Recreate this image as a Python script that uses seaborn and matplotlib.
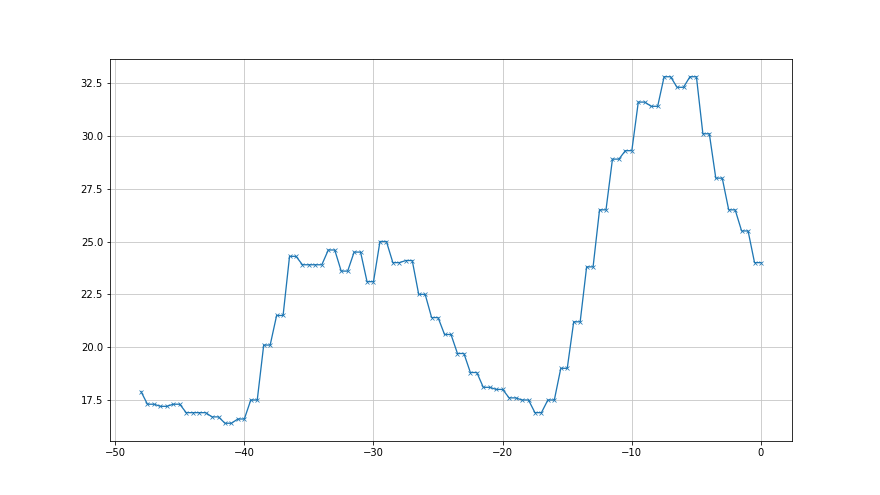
import numpy as np
import pandas as pd
import matplotlib
matplotlib.use("Agg")
import matplotlib.pyplot as plt
import seaborn as sns

# first sample, then one value per pair of half-steps
first_x = -48.0
first_value = 17.9
pair_values = [
    17.3, 17.2, 17.3, 16.9, 16.9, 16.7, 16.4, 16.6, 17.5, 20.1,
    21.5, 24.3, 23.9, 23.9, 24.6, 23.6, 24.5, 23.1, 25.0, 24.0,
    24.1, 22.5, 21.4, 20.6, 19.7, 18.8, 18.1, 18.0, 17.6, 17.5,
    16.9, 17.5, 19.0, 21.2, 23.8, 26.5, 28.9, 29.3, 31.6, 31.4,
    32.8, 32.3, 32.8, 30.1, 28.0, 26.5, 25.5, 24.0,
]

xs = [first_x]
ys = [first_value]
for i, v in enumerate(pair_values):
    x0 = -47.5 + i
    xs += [x0, x0 + 0.5]
    ys += [v, v]

df = pd.DataFrame({"x": xs, "y": ys})

fig, ax = plt.subplots(figsize=(880 / 72, 495 / 72), dpi=72)
sns.lineplot(data=df, x="x", y="y", ax=ax, marker="x", color="#1f77b4",
             linewidth=1.3, markersize=4.5, markeredgecolor="#1f77b4",
             markeredgewidth=0.75)
ax.grid(True, color="#c4c4c4", linewidth=0.8)
ax.set_xlabel("")
ax.set_ylabel("")
ax.set_xticks([-50, -40, -30, -20, -10, 0])
ax.set_yticks([17.5, 20.0, 22.5, 25.0, 27.5, 30.0, 32.5])
fig.savefig("out.png", dpi=72)
